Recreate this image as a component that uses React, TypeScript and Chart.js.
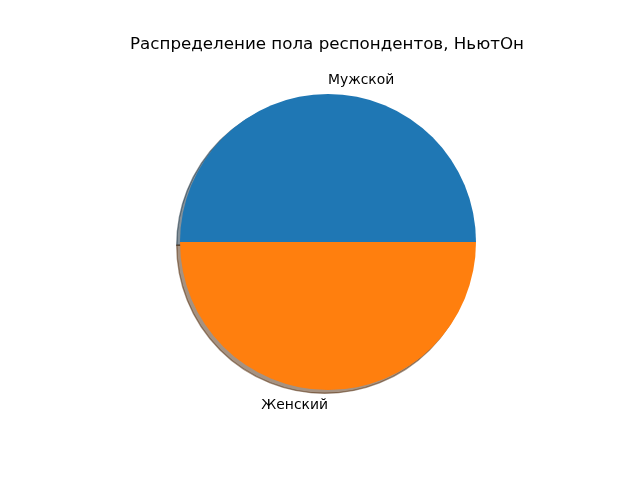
import React, { useEffect, useRef } from "react";
import { Chart, registerables } from "chart.js";

Chart.register(...registerables);

const TITLE = "Распределение пола респондентов, НьютОн";
const categories = ["Мужской", "Женский"];
const values = [50, 50];
const colors = ["#1f77b4", "#ff7f0e"];

function shadowColor(hex: string) {
  const r = parseInt(hex.slice(1, 3), 16) * 0.3;
  const g = parseInt(hex.slice(3, 5), 16) * 0.3;
  const b = parseInt(hex.slice(5, 7), 16) * 0.3;
  return `rgba(${r.toFixed(0)},${g.toFixed(0)},${b.toFixed(0)},0.5)`;
}

const mplPie = {
  id: "mplPie",
  beforeDatasetsDraw(chart: any) {
    const ctx = chart.ctx;
    const meta = chart.getDatasetMeta(0);
    meta.data.forEach((arc: any, i: number) => {
      const r = arc.outerRadius;
      const off = 0.022 * r;
      const cx = arc.x - off;
      const cy = arc.y + off;
      ctx.save();
      ctx.beginPath();
      ctx.moveTo(cx, cy);
      ctx.arc(cx, cy, r, arc.startAngle, arc.endAngle);
      ctx.closePath();
      const c = shadowColor(colors[i % colors.length]);
      ctx.fillStyle = c;
      ctx.fill();
      ctx.strokeStyle = c;
      ctx.lineWidth = 1.4;
      ctx.stroke();
      ctx.restore();
    });
  },
  afterDraw(chart: any) {
    const ctx = chart.ctx;
    const meta = chart.getDatasetMeta(0);
    ctx.save();
    ctx.fillStyle = "#000";
    ctx.font = '16.7px "DejaVu Sans"';
    ctx.textAlign = "center";
    ctx.textBaseline = "middle";
    ctx.fillText(TITLE, 327, 45);
    ctx.font = '13.9px "DejaVu Sans"';
    meta.data.forEach((arc: any, i: number) => {
      const mid = (arc.startAngle + arc.endAngle) / 2;
      const r = arc.outerRadius * 1.1;
      const x = arc.x + Math.cos(mid) * r;
      const y = arc.y + Math.sin(mid) * r + 1;
      const cosv = Math.cos(mid);
      ctx.textAlign = cosv > 1e-9 ? "left" : cosv < -1e-9 ? "right" : (Math.sin(mid) < 0 ? "left" : "right");
      ctx.fillText(String(chart.data.labels[i]), x, y);
    });
    ctx.restore();
  },
};

export default function App() {
  const ref = useRef<HTMLCanvasElement>(null);
  useEffect(() => {
    if (!ref.current) return;
    const chart = new Chart(ref.current, {
      type: "pie",
      data: {
        labels: categories,
        datasets: [
          {
            data: values,
            backgroundColor: colors,
            borderWidth: 0,
          },
        ],
      },
      options: {
        animation: false,
        responsive: false,
        rotation: -90,
        layout: { padding: { top: 94, bottom: 90, left: 100, right: 84 } },
        plugins: {
          legend: { display: false },
          tooltip: { enabled: false },
          title: { display: false },
        },
      },
      plugins: [mplPie],
    });
    return () => chart.destroy();
  }, []);
  return (
    <div style={{ position: "fixed", left: 0, top: 0, width: 640, height: 480, background: "#fff" }}>
      <canvas ref={ref} width={640} height={480} style={{ width: 640, height: 480 }} />
    </div>
  );
}
